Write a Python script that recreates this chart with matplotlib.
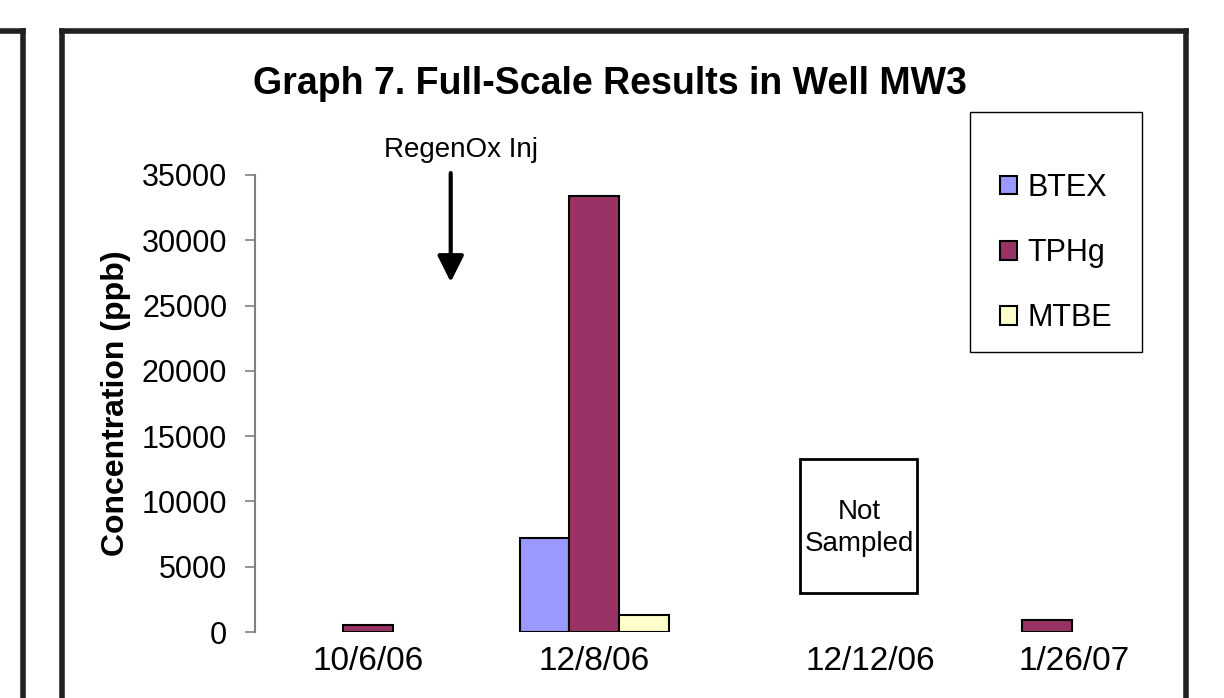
import matplotlib
matplotlib.use("Agg")
import matplotlib.pyplot as plt
from matplotlib.lines import Line2D
from matplotlib.patches import Rectangle
import numpy as np

dates = ["10/6/06", "12/8/06", "12/12/06", "1/26/07"]
# None = not detected / not sampled
btex = [None, 7200, None, None]
tphg = [500, 33400, None, 900]
mtbe = [None, 1300, None, None]
series = ["BTEX", "TPHg", "MTBE"]
colors = ["#9999FF", "#993366", "#FFFFCC"]
# date labels sit a bit off the bar groups in the original
label_pos = [0, 1, 2.22, 3.12]

plt.rcParams['font.family'] = ['Liberation Sans', 'DejaVu Sans']
fig = plt.figure(figsize=(12.24, 6.98), dpi=100)
W, H = 1224.0, 698.0

# outer frames (bits of the document page)
frame_kw = dict(color="#231F20", lw=4, solid_capstyle="projecting")
fig.add_artist(Line2D([0 / W, 23 / W], [1 - 31 / H, 1 - 31 / H], **frame_kw))
fig.add_artist(Line2D([23 / W, 23 / W], [1 - 31 / H, -0.05], **frame_kw))
fig.add_artist(Line2D([62 / W, 1186 / W], [1 - 31 / H, 1 - 31 / H], **frame_kw))
fig.add_artist(Line2D([62 / W, 62 / W], [1 - 31 / H, -0.05], **frame_kw))
fig.add_artist(Line2D([1186 / W, 1186 / W], [1 - 31 / H, -0.05], **frame_kw))

ax = fig.add_axes([255 / W, 66 / H, (1160 - 255) / W, (632 - 175) / H])
x = np.arange(len(dates))
w = 0.22
for i, (vals, name, c) in enumerate(zip([btex, tphg, mtbe], series, colors)):
    v = np.array([np.nan if a is None else a for a in vals], dtype=float)
    ax.bar(x + (i - 1) * w, v, w, color=c, edgecolor="black", lw=1.5, label=name)

ax.set_xlim(-0.5, 3.5)
ax.set_ylim(0, 35000)
ax.set_yticks(np.arange(0, 35001, 5000))
ax.tick_params(axis="y", labelsize=22, length=7, width=1.2, color="#808080", pad=13)
ax.tick_params(axis="x", length=0, labelsize=24, pad=10)
ax.set_xticks(label_pos)
ax.set_xticklabels(dates)
for s in ["top", "right", "bottom"]:
    ax.spines[s].set_visible(False)
ax.spines["left"].set_color("#808080")
ax.spines["left"].set_linewidth(1.5)

ax.set_ylabel("Concentration (ppb)", fontsize=23, fontweight="bold", labelpad=8)
fig.text(610 / W, 1 - 84 / H, "Graph 7. Full-Scale Results in Well MW3",
         ha="center", va="center", fontsize=27, fontweight="bold")

# injection marker
ax.text(0.41, 36900, "RegenOx Inj", ha="center", va="center", fontsize=20, clip_on=False)
ax.annotate("", xy=(0.365, 26800), xytext=(0.365, 35150),
            arrowprops=dict(arrowstyle="-|>,head_width=0.8,head_length=1.6", color="black",
                            lw=3, shrinkA=0, shrinkB=0))

# not sampled box
ax.add_patch(Rectangle((1.91, 3000), 0.515, 10250, fill=False, ec="black", lw=2, clip_on=False))
ax.text(2.17, 8000, "Not\nSampled", ha="center", va="center", fontsize=20, linespacing=1.3)

# legend with its own box (extra room above the entries, as in the original)
fig.add_artist(Rectangle((970 / W, 1 - 352 / H), (1142 - 970) / W, 240 / H,
                         transform=fig.transFigure, fill=False, ec="black", lw=1.0))
ax.legend(loc="upper left", bbox_to_anchor=(1000 / W, 1 - 173 / H),
          bbox_transform=fig.transFigure, fontsize=22, frameon=False,
          handlelength=0.55, handleheight=0.55, handletextpad=0.35,
          labelspacing=1.15, borderpad=0, borderaxespad=0)

fig.savefig("out.png", dpi=100, facecolor="white")
